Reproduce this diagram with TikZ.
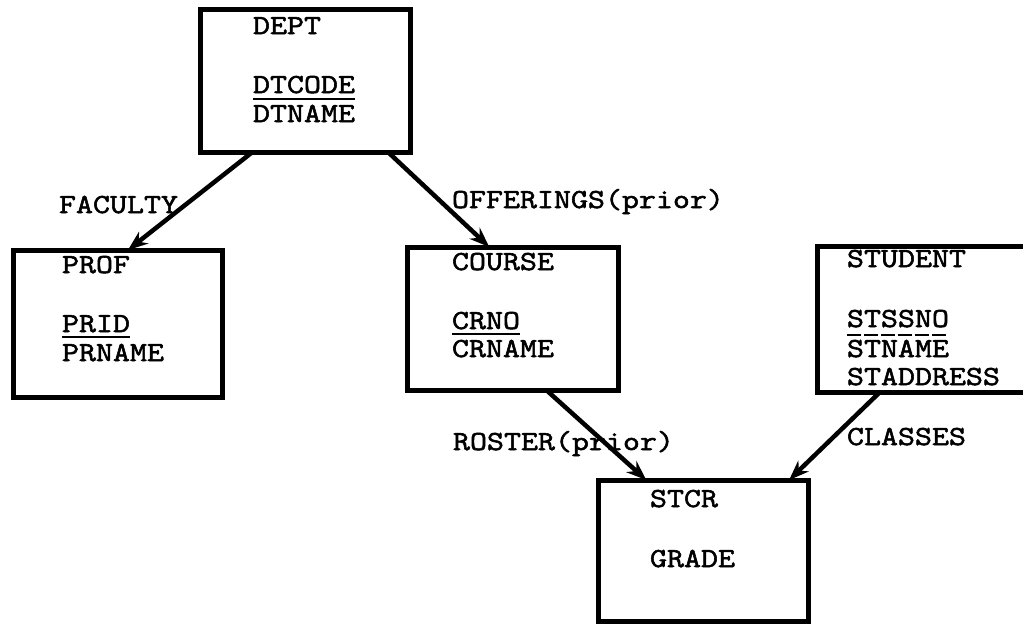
\documentclass[tikz,border=0pt]{standalone}
\usepackage{fontspec}
\newfontfamily\tw{Latin Modern Mono}[FakeBold=2,FakeStretch=1.2]
\usetikzlibrary{calc,arrows.meta}
\tikzset{
  ent/.style={draw=black, line width=5pt, rectangle, inner sep=0pt, outer sep=0pt},
  lbl/.style={anchor=base west, inner sep=0pt, outer sep=0pt, font=\tw\fontsize{27.5}{30}\selectfont},
  link/.style={line width=4.5pt, -{Stealth[length=20pt,width=15pt]}},
  uline/.style={line width=2pt},
}
\begin{document}
\begin{tikzpicture}[x=1pt,y=-1pt]
\useasboundingbox[fill=white] (0,0) rectangle (1023,625);
% boxes
\node[ent, minimum width=210pt, minimum height=143pt] (dept) at (305,80.5) {};
\node[ent, minimum width=209pt, minimum height=147pt] (prof) at (117.5,323.5) {};
\node[ent, minimum width=211pt, minimum height=143pt] (course) at (512.5,318.5) {};
\node[ent, minimum width=223pt, minimum height=146pt] (student) at (928.5,319) {};
\node[ent, minimum width=210pt, minimum height=141pt] (stcr) at (703,550.5) {};
% texts
\node[lbl] (tdept) at (253,34) {DEPT};
\node[lbl] (tdtcode) at (253,93) {DTCODE};
\node[lbl] (tdtname) at (253,122) {DTNAME};
\node[lbl] (tprof) at (62,273) {PROF};
\node[lbl] (tprid) at (62,332) {PRID};
\node[lbl] (tprname) at (62,361) {PRNAME};
\node[lbl] (tcourse) at (452,270) {COURSE};
\node[lbl] (tcrno) at (452,329) {CRNO};
\node[lbl] (tcrname) at (452,357) {CRNAME};
\node[lbl] (tstudent) at (847,267) {STUDENT};
\node[lbl] (tstssno) at (847,327) {STSSNO};
\node[lbl] (tstname) at (847,357) {STNAME};
\node[lbl] (tstaddr) at (847,385) {STADDRESS};
\node[lbl] (tstcr) at (650,507) {STCR};
\node[lbl] (tgrade) at (650,567) {GRADE};
\node[lbl] (lfac) at (59,213) {FACULTY};
\node[lbl] (loff) at (452,208) {OFFERINGS(prior)};
\node[lbl] (lros) at (453,450) {ROSTER(prior)};
\node[lbl] (lcla) at (847,445) {CLASSES};
% underlines
\draw[uline] ([yshift=-6pt]tdtcode.base west) -- ([yshift=-6pt]tdtcode.base east);
\draw[uline] ([yshift=-5pt]tprid.base west) -- ([yshift=-5pt]tprid.base east);
\draw[uline] ([yshift=-5pt]tcrno.base west) -- ([yshift=-5pt]tcrno.base east);
\draw[uline, dash pattern=on 14pt off 3pt] ([yshift=-8pt]tstssno.base west) -- ([yshift=-8pt]tstssno.base east);
% connectors
\draw[link] ($(dept.south west)!0.25!(dept.south east)$) -- ($(prof.north west)!0.55!(prof.north east)$);
\draw[link] ($(dept.south west)!0.895!(dept.south east)$) -- ($(course.north west)!0.39!(course.north east)$);
\draw[link] ($(course.south west)!0.66!(course.south east)$) -- ($(stcr.north west)!0.23!(stcr.north east)$);
\draw[link] ($(student.south west)+(63pt,0)$) -- ($(stcr.north west)!0.91!(stcr.north east)$);
\end{tikzpicture}
\end{document}
